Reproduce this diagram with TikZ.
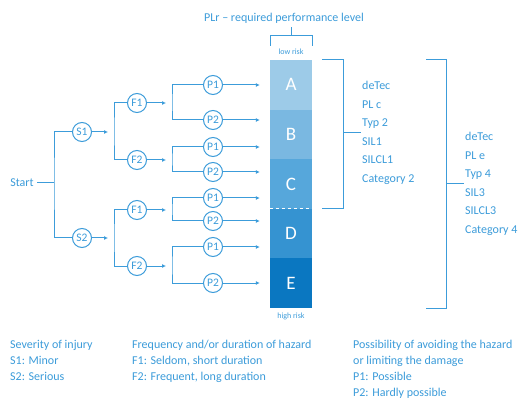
\documentclass[tikz,border=0pt]{standalone}
\usepackage{fontspec}
\setmainfont{Carlito}
\usetikzlibrary{arrows.meta,positioning}

\definecolor{lineblue}{HTML}{3C9CDA}
\definecolor{lvlA}{HTML}{9DCBE8}
\definecolor{lvlB}{HTML}{7AB8E1}
\definecolor{lvlC}{HTML}{56A7DB}
\definecolor{lvlD}{HTML}{3593D1}
\definecolor{lvlE}{HTML}{0A77C1}

\begin{document}
\begin{tikzpicture}[x=1pt, y=-1pt,
  every node/.style={text=lineblue},
  wire/.style={draw=lineblue, line width=1pt},
  arr/.style={wire, -{Latex[length=4pt,width=4pt]}},
  choice/.style={circle, draw=lineblue, line width=1pt, inner sep=0pt,
    minimum size=19pt, font=\fontsize{11.5}{11.5}\selectfont},
  level/.style={fill=#1, minimum width=42pt, minimum height=49.6pt,
    inner sep=0pt, text=white, font=\fontsize{19}{19}\selectfont},
  legend/.style={anchor=north west, align=left, inner sep=0pt,
    font=\fontsize{12}{16}\selectfont},
  tech/.style={anchor=west, align=left, inner sep=1pt,
    font=\fontsize{12}{18.5}\selectfont}]
  \path[use as bounding box, fill=white] (0,0) rectangle (520,401);

  % Risk bar
  \foreach \lv [count=\i] in {A,B,C,D,E} {
    \node[level=lvl\lv] (lv\lv) at (291,{35.2+\i*49.6}) {\lv};
  }
  \draw[white, dashed, line width=1pt] (lvC.south west) -- (lvC.south east);

  % Title and top brace
  \node[font=\fontsize{12}{12}\selectfont] (title) at (284,18) {PLr -- required performance level};
  \draw[wire] (270,46) -- (270,36) -- (312,36) -- (312,46);
  \coordinate (tb) at (291,36);
  \draw[wire] (tb) -- (tb |- title.south);
  \node[font=\fontsize{8}{8}\selectfont] (low) at (291,52) {low risk};
  \node[font=\fontsize{8}{8}\selectfont] (high) at (291,316) {high risk};

  % Brackets with device data
  \draw[wire] (322,60) -- (343,60) -- (343,209) -- (322,209);
  \coordinate (br1) at (343,133);
  \node[tech] (tech1) at (361,133) {deTec\\PL c\\Typ 2\\SIL1\\SILCL1\\Category 2};
  \draw[wire] (br1) -- (tech1.west);
  \draw[wire] (426,60) -- (446,60) -- (446,308) -- (426,308);
  \coordinate (br2) at (446,184);
  \node[tech] (tech2) at (464,184) {deTec\\PL e\\Typ 4\\SIL3\\SILCL3\\Category 4};
  \draw[wire] (br2) -- (tech2.west);

  % Severity
  \node[font=\fontsize{12}{12}\selectfont] (start) at (22,183) {Start};
  \node[choice] (S1) at (82,132) {S1};
  \node[choice] (S2) at (82,238) {S2};
  \coordinate (j0) at (54,183);
  \draw[wire] (start) -- (j0);
  \draw[wire] (S1.west) -| (j0) |- (S2.west);

  % Frequency
  \foreach \s/\ya/\yb in {1/103/160, 2/210/266} {
    \coordinate (jS\s) at ([xshift=32pt]S\s.center);
    \draw[arr, shorten >=6pt] (S\s) -- (jS\s);
    \node[choice] (F\s1) at (137,\ya) {F1};
    \node[choice] (F\s2) at (137,\yb) {F2};
    \draw[wire] (F\s1.west) -| (jS\s) |- (F\s2.west);
  }

  % Possibility of avoiding
  \foreach \s/\f/\ya/\yb in {1/1/85/120, 1/2/147/172, 2/1/198/221, 2/2/247/283} {
    \coordinate (jF\s\f) at ([xshift=35pt]F\s\f.center);
    \draw[arr, shorten >=6pt] (F\s\f) -- (jF\s\f);
    \node[choice] (P\s\f1) at (213,\ya) {P1};
    \node[choice] (P\s\f2) at (213,\yb) {P2};
    \draw[wire] (P\s\f1.west) -| (jF\s\f) |- (P\s\f2.west);
    \draw[arr, shorten >=10pt] (P\s\f1) -- (P\s\f1 -| lvA.west);
    \draw[arr, shorten >=10pt] (P\s\f2) -- (P\s\f2 -| lvA.west);
  }

  % Legend
  \node[legend] (legS) at (10,340) {Severity of injury\\S1: Minor\\S2: Serious};
  \node[legend] (legF) at (132,340) {Frequency and/or duration of hazard\\F1: Seldom, short duration\\F2: Frequent, long duration};
  \node[legend] (legP) at (353,340) {Possibility of avoiding the hazard\\or limiting the damage\\P1: Possible\\P2: Hardly possible};
\end{tikzpicture}
\end{document}
